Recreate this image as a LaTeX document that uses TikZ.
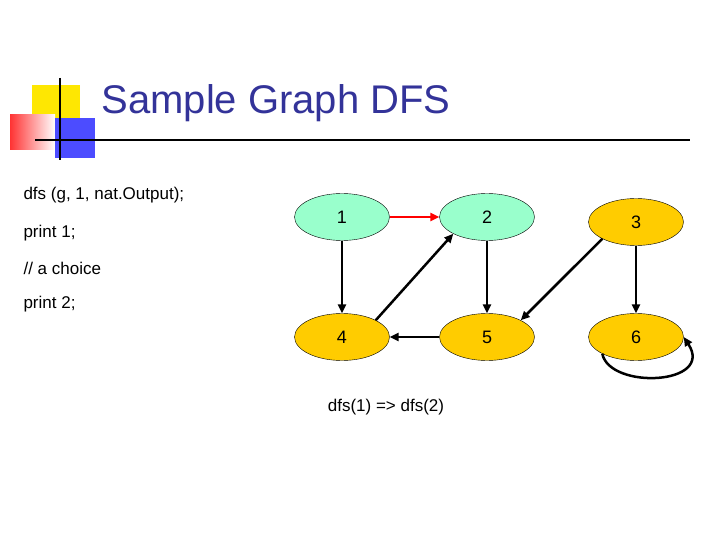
\documentclass[tikz,border=0pt]{standalone}
\usepackage{fontspec}
\setmainfont{Liberation Sans}
\usetikzlibrary{arrows.meta,shapes.geometric}
\definecolor{mint}{RGB}{153,255,204}
\definecolor{gold}{RGB}{255,204,0}
\definecolor{titleblue}{RGB}{51,51,153}
\begin{document}
\begin{tikzpicture}[x=1pt, y=-1pt,
    vert/.style={ellipse, draw, minimum width=95pt, minimum height=47pt, inner sep=0pt, font=\fontsize{18}{20}\selectfont},
    edge/.style={-{Triangle[length=9pt,width=8pt]}, line width=2.5pt},
    every node/.style={font=\fontsize{17}{20}\selectfont}]
    \useasboundingbox (0,0) rectangle (720,540);
    % Title decoration
    \fill[yellow!90!orange] (32,85) rectangle (80,130);
    \shade[left color=red!80, right color=white] (10,115) rectangle (55,150);
    \fill[blue!70] (55,118) rectangle (95,158);
    \draw[line width=1.2pt] (60,78) -- (60,160);
    \draw[line width=1.2pt] (35,140) -- (690,140);
    \node[anchor=west, text=titleblue, font=\fontsize{40}{44}\selectfont] (title) at (98,103) {Sample Graph DFS};

    % Code lines
    \node[anchor=west] (c1) at (20,195) {dfs (g, 1, nat.Output);};
    \node[anchor=west] (c2) at (20,233) {print 1;};
    \node[anchor=west] (c3) at (20,268) {// a choice};
    \node[anchor=west] (c4) at (20,304) {print 2;};

    % Vertices
    \node[vert, fill=mint] (v1) at (342,217) {1};
    \node[vert, fill=mint] (v2) at (487,217) {2};
    \node[vert, fill=gold] (v3) at (636,222) {3};
    \node[vert, fill=gold] (v4) at (342,337) {4};
    \node[vert, fill=gold] (v5) at (487,337) {5};
    \node[vert, fill=gold] (v6) at (636,337) {6};

    % Edges
    \draw[edge, red] (v1) -- (v2);
    \draw[edge] (v1) -- (v4);
    \draw[edge] (v2) -- (v5);
    \draw[edge] (v4.north east) -- (v2.south west);
    \draw[edge] (v5) -- (v4);
    \draw[edge] (v3.south west) -- (v5.north east);
    \draw[edge] (v3) -- (v6);
    \draw[edge] (v6.south west) .. controls (610,390) and (715,385) .. (v6.east);

    \node (call) at (386,407) {dfs(1) => dfs(2)};
\end{tikzpicture}
\end{document}
